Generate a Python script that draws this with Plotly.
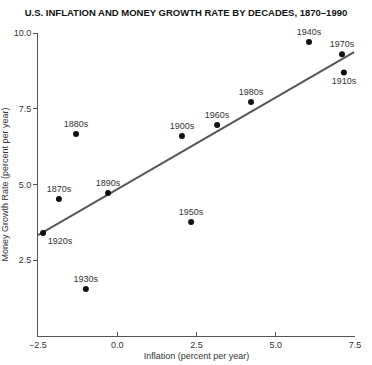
import plotly.graph_objects as go

decades = ["1870s", "1880s", "1890s", "1900s", "1910s", "1920s", "1930s",
           "1940s", "1950s", "1960s", "1970s", "1980s"]
inflation = [-1.84, -1.30, -0.29, 2.04, 7.15, -2.34, -0.99, 6.05, 2.33, 3.15, 7.09, 4.22]
money_growth = [4.52, 6.67, 4.72, 6.60, 8.70, 3.40, 1.55, 9.70, 3.76, 6.96, 9.30, 7.72]
label_pos = ["top center", "top center", "top center", "top center", "bottom center",
             "bottom right", "top center", "top center", "top center", "top center",
             "top center", "top center"]

fit_x = [-2.5, 7.47]
fit_y = [3.33, 9.37]

x_ticks = [-2.5, 0.0, 2.5, 5.0, 7.5]
y_ticks = [2.5, 5.0, 7.5, 10.0]

FONT = "Liberation Sans, Arial, sans-serif"

fig = go.Figure()
fig.add_trace(go.Scatter(x=fit_x, y=fit_y, mode="lines",
                         line=dict(color="#555555", width=2), hoverinfo="skip"))
fig.add_trace(go.Scatter(x=inflation, y=money_growth, mode="markers+text",
                         text=decades, textposition=label_pos, cliponaxis=False,
                         textfont=dict(family=FONT, size=9, color="#333333"),
                         marker=dict(color="#111111", size=6)))

fig.update_layout(
    width=372, height=365,
    margin=dict(l=38, r=17, t=33, b=29),
    paper_bgcolor="white", plot_bgcolor="white",
    showlegend=False,
    font=dict(family=FONT, size=9, color="#333333"),
    title=dict(text="<b>U.S. INFLATION AND MONEY GROWTH RATE BY DECADES, 1870–1990</b>",
               x=0.5, xanchor="center", y=0.975, yanchor="top",
               font=dict(family=FONT, size=9.5, color="#111111")),
)
fig.update_xaxes(range=[-2.5, 7.5], tickvals=x_ticks, ticktext=[f"{v:.1f}".replace("-", "−") for v in x_ticks],
                 showgrid=False, zeroline=False, showline=True, linecolor="#555555", linewidth=1,
                 ticks="inside", ticklen=4, tickcolor="#555555", automargin=False,
                 title=dict(text="Inflation (percent per year)", font=dict(size=9), standoff=3))
fig.update_yaxes(range=[0, 10], tickvals=y_ticks, ticktext=[f"{v:.1f}" for v in y_ticks],
                 showgrid=False, zeroline=False, showline=True, linecolor="#555555", linewidth=1,
                 ticks="outside", ticklen=4, tickcolor="#555555", automargin=False,
                 title=dict(text="Money Growth Rate (percent per year)", font=dict(size=9), standoff=5))

fig.write_html("out.html", config={"displayModeBar": False},
               post_script="document.body.style.margin='0px';")
